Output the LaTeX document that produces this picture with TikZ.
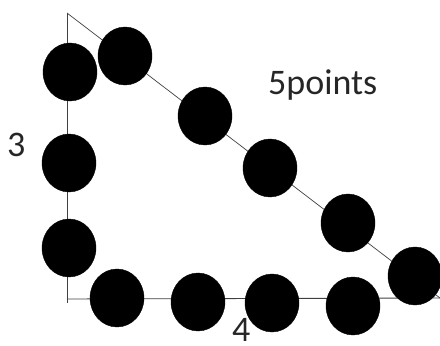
\documentclass[tikz,border=0pt]{standalone}
\usepackage{fontspec}
\newfontfamily\lab{Carlito}
\usetikzlibrary{shapes.geometric}
\begin{document}
\begin{tikzpicture}[x=1pt,y=-1pt,
  dot/.style={ellipse,fill=black,draw=black,minimum width=54pt,minimum height=58pt,inner sep=0pt},
  edge/.style={draw=black!75,line width=0.9pt},
  lbl/.style={font=\lab\fontsize{36}{40}\selectfont,text=black!85,inner sep=0pt,anchor=base west}]
\useasboundingbox (0,0) rectangle (440,346);
\coordinate (T) at (67,13);
\coordinate (O) at (67,299);
\coordinate (R) at (440,298);
\coordinate (Ob) at (67,303);
\draw[edge] (T) -- (Ob);
\draw[edge] (O) -- (R);
\draw[edge,line width=0.7pt] (T) -- (R);
\node[dot] (l1) at (70,72) {};
\node[dot] (l2) at (69,163) {};
\node[dot] (l3) at (69,248) {};
\node[dot] (h1) at (125,56) {};
\node[dot] (h2) at (205,116) {};
\node[dot] (h3) at (270,168) {};
\node[dot] (h4) at (348,223) {};
\node[dot] (h5) at (415,276) {};
\node[dot] (b1) at (117,298) {};
\node[dot] (b2) at (198,302) {};
\node[dot] (b3) at (272,303) {};
\node[dot] (b4) at (353,306) {};
\node[lbl] (pts) at (268,94) {5points};
\node[lbl] (three) at (7,156) {3};
\node[lbl] (four) at (232,341) {4};
\end{tikzpicture}
\end{document}
